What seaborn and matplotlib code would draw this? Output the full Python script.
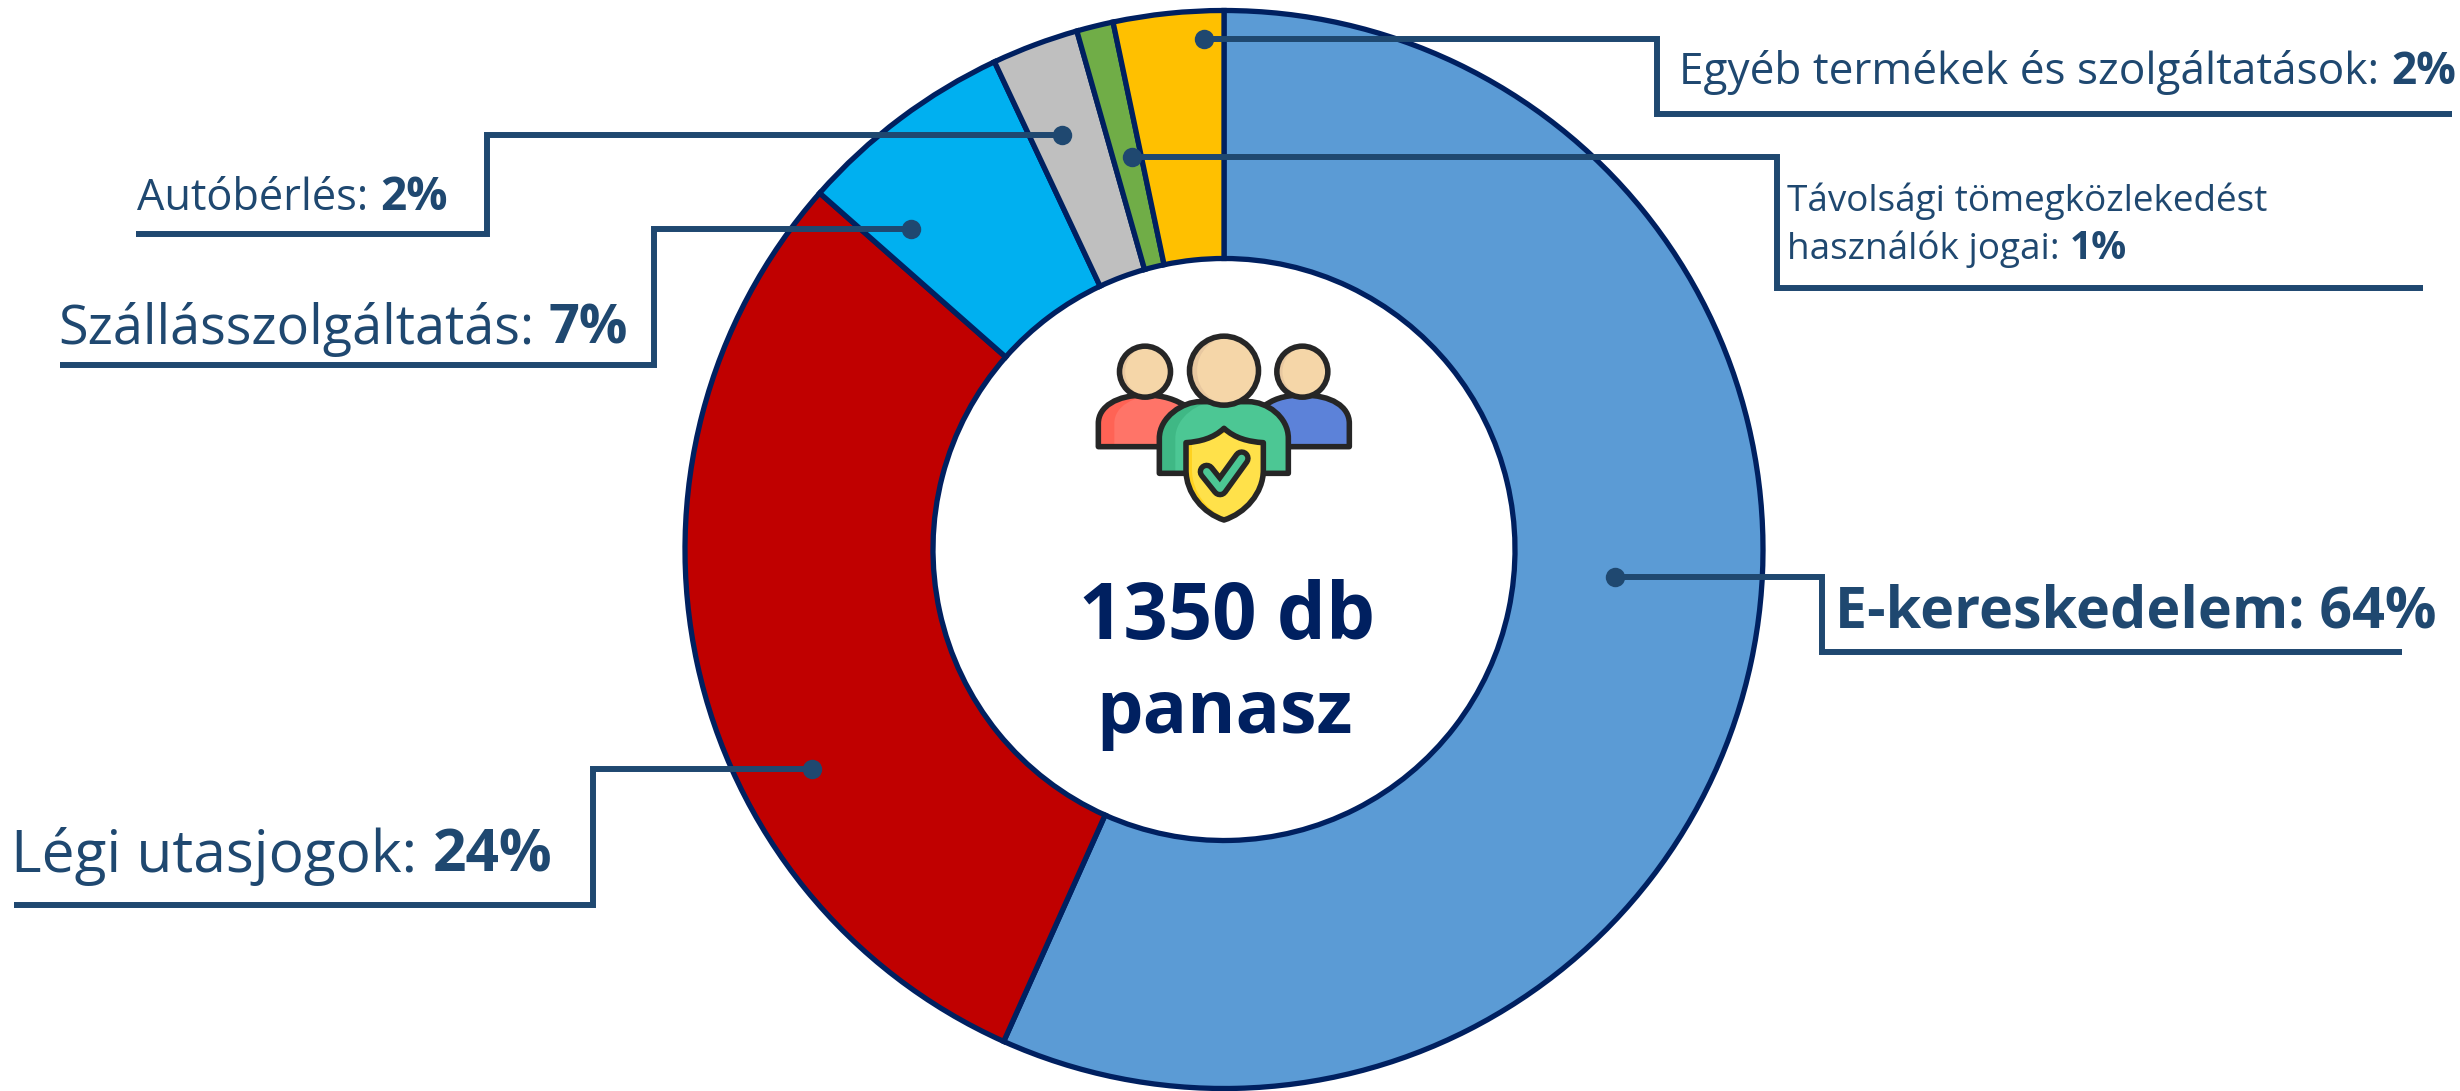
import matplotlib
matplotlib.use('Agg')
import matplotlib.pyplot as plt
import seaborn as sns
from matplotlib.patches import Circle, PathPatch
from matplotlib.path import Path

# adatok
categories = ['E-kereskedelem', 'Légi utasjogok', 'Szállásszolgáltatás', 'Autóbérlés',
              'Távolsági tömegközlekedést használók jogai', 'Egyéb termékek és szolgáltatások']
shares = [56.7, 29.8, 6.5, 2.6, 1.1, 3.3]
slice_colors = ['#5B9BD5', '#C00000', '#00B0F0', '#BFBFBF', '#70AD47', '#FFC000']
label_pcts = ['64%', '24%', '7%', '2%', '1%', '2%']
total_text = ['1350 db', 'panasz']

sns.set_theme(style='white')
plt.rcParams['font.family'] = ['Open Sans', 'DejaVu Sans']

NAVY = '#002060'
INK = '#1F4870'
DARK = '#262626'

fig = plt.figure(figsize=(24.6, 10.91), dpi=100)
ax = fig.add_axes([0, 0, 1, 1])

# fanck: forditott y tengely miatt az oramutato jarasaval megy
ax.pie(shares, colors=sns.color_palette(slice_colors), center=(1224, 549.5), radius=539,
       startangle=270, counterclock=True,
       wedgeprops={'width': 248, 'edgecolor': NAVY, 'linewidth': 3.8})
ax.set_xlim(0, 2460)
ax.set_ylim(1091, 0)
ax.set_aspect('equal')
ax.axis('off')

# vezetovonalak
leaders = [
    [(1615, 577), (1822, 577), (1822, 652), (2402, 652)],
    [(812, 769), (593, 769), (593, 905), (14, 905)],
    [(911, 229), (654, 229), (654, 365), (60, 365)],
    [(1062, 135), (487, 135), (487, 234), (136, 234)],
    [(1132, 157), (1777, 157), (1777, 288), (2423, 288)],
    [(1204, 39), (1657, 39), (1657, 114), (2452, 114)],
]
for pts in leaders:
    xs = [p[0] for p in pts]
    ys = [p[1] for p in pts]
    ax.plot(xs, ys, color=INK, lw=4.3, solid_joinstyle='miter', solid_capstyle='butt', zorder=5)
    ax.plot(xs[0], ys[0], 'o', color=INK, ms=14, mew=0, zorder=6)

renderer = fig.canvas.get_renderer()


def label(x, y, normal, bold, size, bold_size=None):
    t = ax.text(x, y, normal, fontsize=size, color=INK, va='baseline', ha='left', zorder=7)
    if bold:
        end = t.get_window_extent(renderer).x1
        ax.text(end + size * 0.38, y, bold, fontsize=bold_size or size, color=INK, va='baseline', ha='left',
                fontweight='bold', zorder=7)


ax.text(1835, 628, categories[0] + ': ' + label_pcts[0], fontsize=41.3, color=INK,
        fontweight='bold', va='baseline', ha='left', zorder=7)
label(11, 872, categories[1] + ':', label_pcts[1], 42.2)
label(58, 344, categories[2] + ':', label_pcts[2], 38.8)
label(137, 210, categories[3] + ':', label_pcts[3], 31.2, 33)
label(1787, 211, 'Távolsági tömegközlekedést', '', 26.6)
label(1787, 259, 'használók jogai:', label_pcts[4], 26.6, 28)
label(1679, 84, categories[5] + ':', label_pcts[5], 31.8)

ax.text(1227, 639, total_text[0], fontsize=56, fontweight='bold', color=NAVY, ha='center', va='baseline')
ax.text(1225, 733, total_text[1], fontsize=53, fontweight='bold', color=NAVY, ha='center', va='baseline')


# ikon: koordinatak a kivagasbol (3x nagyitas)
def ic(x, y):
    return 1050 + x / 3, 320 + y / 3


def shape(segments, face, z, shade=None, shade_w=0):
    verts, codes = [], []
    for seg in segments:
        if len(seg) == 2:
            verts.append(ic(*seg))
            codes.append(Path.LINETO if verts[:-1] else Path.MOVETO)
        else:
            for i in range(0, 6, 2):
                verts.append(ic(seg[i], seg[i + 1]))
                codes.append(Path.CURVE4)
    verts.append(verts[0])
    codes.append(Path.CLOSEPOLY)
    path = Path(verts, codes)
    ax.add_patch(PathPatch(path, fc=shade or face, ec='none', zorder=z))
    if shade:
        clip = PathPatch(path, transform=ax.transData, fc='none', ec='none')
        ax.add_patch(clip)
        light = PathPatch(Path([(v[0] + shade_w, v[1]) for v in verts], codes), fc=face, ec='none', zorder=z)
        ax.add_patch(light)
        light.set_clip_path(clip)
    ax.add_patch(PathPatch(path, fc='none', ec=DARK, lw=4, joinstyle='round', zorder=z))


def head(x, y, r, z):
    cx, cy = ic(x, y)
    ax.add_patch(Circle((cx, cy), r, fc='#E8C8A0', ec='none', zorder=z))
    light = Circle((cx + r * 0.22, cy), r, fc='#F5D6A8', ec='none', zorder=z)
    ax.add_patch(light)
    light.set_clip_path(Circle((cx, cy), r, transform=ax.transData))
    ax.add_patch(Circle((cx, cy), r, fc='none', ec=DARK, lw=4, zorder=z))


shape([(145, 380), (145, 310), (145, 260, 200, 225, 285, 225), (340, 225, 380, 240, 410, 260), (340, 380)],
      '#FF7468', 8, '#FF6355', 16)
shape([(898, 380), (898, 310), (898, 260, 845, 225, 757, 225), (700, 225, 665, 240, 640, 260), (700, 380)],
      '#5C82D9', 8)
head(285, 155, 25.5, 9)
head(757, 155, 25.5, 9)
shape([(328, 460), (328, 355), (328, 290, 400, 245, 450, 245), (595, 245), (650, 245, 715, 290, 715, 355), (715, 460)],
      '#4CC794', 10, '#3FB885', 16)
head(522, 152, 34.5, 11)
shape([(522, 325), (490, 355, 450, 365, 408, 368), (408, 450), (408, 520, 460, 580, 522, 600),
       (585, 580, 640, 520, 640, 450), (640, 368), (595, 365, 555, 355, 522, 325)],
      '#FFE14A', 12, '#FFD21F', 6)
chk = [ic(470, 455), ic(510, 505), ic(575, 415)]
ax.plot([p[0] for p in chk], [p[1] for p in chk], color=DARK, lw=13, solid_capstyle='round',
        solid_joinstyle='round', zorder=13)
ax.plot([p[0] for p in chk], [p[1] for p in chk], color='#4CC794', lw=5.2, solid_capstyle='round',
        solid_joinstyle='round', zorder=14)

fig.savefig('out.png', dpi=100, facecolor='white')
